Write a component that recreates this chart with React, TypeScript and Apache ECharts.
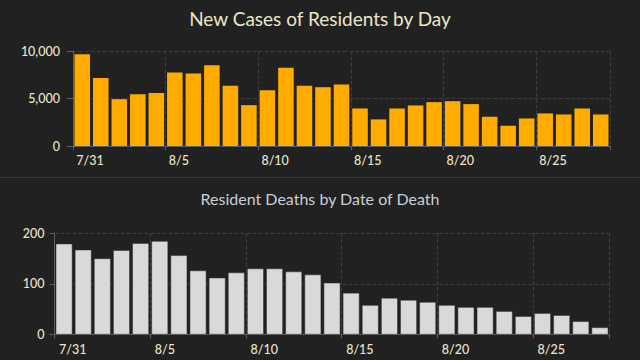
import React, { useEffect, useRef } from "react";
import * as echarts from "echarts";

const days = [
  "7/31", "8/1", "8/2", "8/3", "8/4", "8/5", "8/6", "8/7", "8/8", "8/9",
  "8/10", "8/11", "8/12", "8/13", "8/14", "8/15", "8/16", "8/17", "8/18", "8/19",
  "8/20", "8/21", "8/22", "8/23", "8/24", "8/25", "8/26", "8/27", "8/28",
];
const newCases = [
  9650, 7170, 4930, 5450, 5590, 7730, 7620, 8500, 6330, 4300,
  5870, 8250, 6330, 6190, 6470, 3950, 2800, 3950, 4270, 4620,
  4720, 4410, 3080, 2130, 2900, 3430, 3320, 3950, 3320,
];
const deaths = [
  179, 167, 150, 166, 180, 184, 156, 126, 112, 122,
  130, 130, 124, 118, 102, 82, 58, 72, 68, 64,
  58, 54, 54, 46, 36, 42, 38, 26, 14,
];
const casesTicks = [0, 5000, 10000];
const deathTicks = [0, 100, 200];

const FONT = "Lato, 'Open Sans', sans-serif";
const CREAM = "#ece5c8";

export default function App() {
  const ref = useRef<HTMLDivElement>(null);
  useEffect(() => {
    const chart = echarts.init(ref.current!, null, { renderer: "svg" });
    const xCommon = (gridIndex: number, axisColor: string) => ({
      type: "category" as const,
      gridIndex,
      data: days,
      boundaryGap: true,
      axisLine: { show: true, lineStyle: { color: axisColor, width: 1 } },
      axisTick: { show: true, interval: 4, length: 4, lineStyle: { color: axisColor } },
      axisLabel: {
        interval: 4,
        align: "left" as const,
        padding: [0, 0, 0, gridIndex === 0 ? -6 : -5],
        margin: 8,
        color: CREAM,
        fontFamily: FONT,
        fontSize: 12.5,
        fontWeight: 500,
      },
      splitLine: {
        show: true,
        interval: 4,
        lineStyle: { color: "#3c3c3c", type: "dashed" as const, width: 1 },
      },
    });
    chart.setOption({
      animation: false,
      backgroundColor: "#212121",
      title: [
        {
          text: "New Cases of Residents by Day",
          left: "center",
          top: 4,
          textStyle: { color: "#ebe6c6", fontFamily: FONT, fontSize: 19, fontWeight: "normal" },
        },
        {
          text: "Resident Deaths by Date of Death",
          left: "center",
          top: 185,
          textStyle: { color: "#c8cfd6", fontFamily: FONT, fontSize: 16, fontWeight: "normal" },
        },
      ],
      graphic: [
        {
          type: "line",
          shape: { x1: 0, y1: 177.5, x2: 640, y2: 177.5 },
          style: { stroke: "#3a3a3a", lineWidth: 1 },
          silent: true,
        },
      ],
      grid: [
        { left: 73, right: 30, top: 51, height: 95 },
        { left: 54.5, right: 30.5, top: 233, height: 101.5 },
      ],
      xAxis: [xCommon(0, "#56626e"), xCommon(1, "#5e5e5e")],
      yAxis: [
        {
          type: "value",
          gridIndex: 0,
          min: casesTicks[0],
          max: casesTicks[casesTicks.length - 1],
          interval: casesTicks[1] - casesTicks[0],
          axisLine: { show: true, lineStyle: { color: "#56626e" } },
          axisTick: { show: true, length: 6, lineStyle: { color: "#56626e" } },
          axisLabel: {
            margin: 13,
            color: CREAM,
            fontFamily: FONT,
            fontSize: 12.5,
            fontWeight: 500,
            formatter: (v: number) => v.toLocaleString("en-US"),
          },
          splitLine: { show: true, lineStyle: { color: "#3c3c3c", type: "dashed" } },
        },
        {
          type: "value",
          gridIndex: 1,
          min: deathTicks[0],
          max: deathTicks[deathTicks.length - 1],
          interval: deathTicks[1] - deathTicks[0],
          axisLine: { show: true, lineStyle: { color: "#5e5e5e" } },
          axisTick: { show: true, length: 5, lineStyle: { color: "#5e5e5e" } },
          axisLabel: {
            margin: 10,
            color: CREAM,
            fontFamily: FONT,
            fontSize: 12.5,
            fontWeight: 500,
          },
          splitLine: { show: true, lineStyle: { color: "#3c3c3c", type: "dashed" } },
        },
      ],
      series: [
        {
          type: "bar",
          xAxisIndex: 0,
          yAxisIndex: 0,
          data: newCases,
          barCategoryGap: "16%",
          itemStyle: { color: "#ffab00" },
        },
        {
          type: "bar",
          xAxisIndex: 1,
          yAxisIndex: 1,
          data: deaths,
          barCategoryGap: "13%",
          itemStyle: { color: "#d9d9d9", borderColor: "#2a2a2a", borderWidth: 0.5 },
        },
      ],
    });
    return () => chart.dispose();
  }, []);
  return (
    <div
      ref={ref}
      style={{ position: "fixed", left: 0, top: 0, width: 640, height: 360 }}
    />
  );
}
